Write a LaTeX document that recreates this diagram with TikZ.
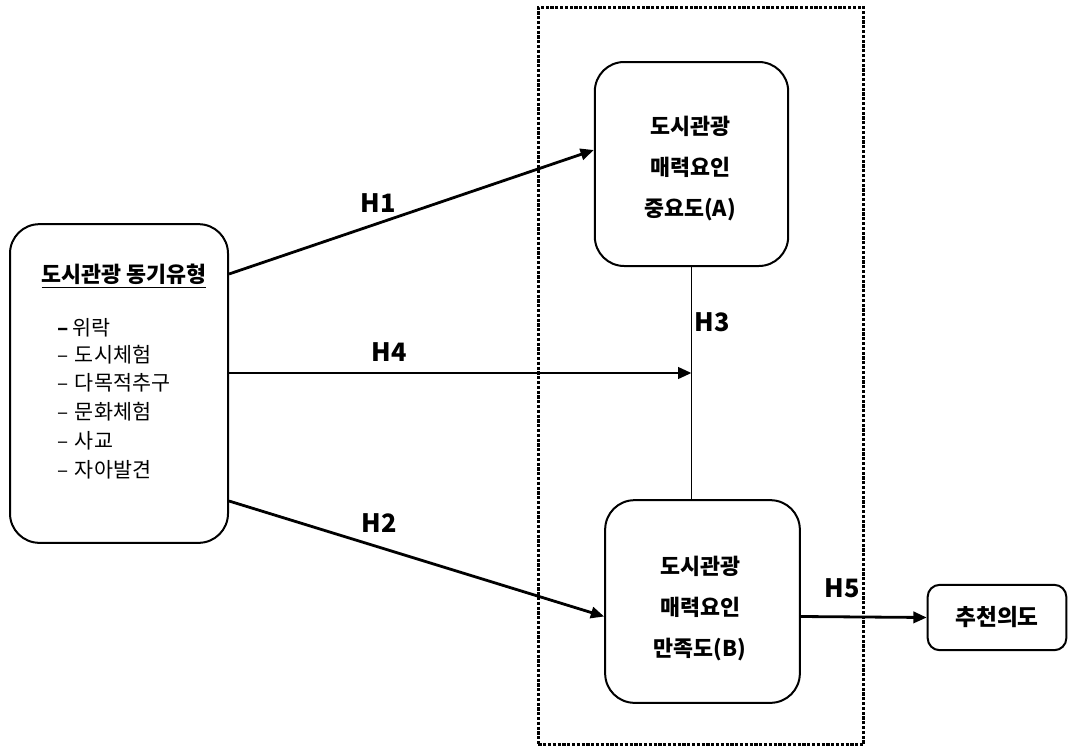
\documentclass[tikz,border=0pt]{standalone}
\usepackage{fontspec}
\setmainfont{Noto Sans CJK KR}
\usetikzlibrary{arrows.meta,calc}
\begin{document}
\begin{tikzpicture}[x=0.75pt,y=-0.75pt,
  box/.style={draw,line width=1.5pt,rounded corners=22pt,inner sep=0pt},
  arr/.style={line width=2.1pt,-{Triangle[length=10pt,width=8.5pt]}},
  hlabel/.style={font=\fontsize{19}{21}\selectfont\bfseries,inner sep=0pt},
  boxtext/.style={align=center,inner sep=0pt,font=\fontsize{16.3}{30.75}\selectfont\bfseries},
  item/.style={anchor=west,inner sep=0pt,font=\fontsize{15.5}{17}\selectfont}]
\useasboundingbox (0,0) rectangle (1068,747);

% dotted frame around the two attraction boxes
\node[draw,line width=2.4pt,dash pattern=on 2.4pt off 1.2pt,
      minimum width=244pt,minimum height=553pt,inner sep=0pt] (frame) at (701,376) {};

% motivation box
\node[box,minimum width=163.5pt,minimum height=239pt] (L) at (119,383.5) {};
\node[inner sep=0pt,font=\fontsize{16.3}{18}\selectfont\bfseries] (Ltitle) at (124,276)
  {\underline{도시관광 동기유형}};
\node[item] (i1) at (57,328) {\textbf{–}\hspace{3pt}위락};
\foreach \name/\txt/\yy in {i2/도시체험/355, i3/다목적추구/383,
                           i4/문화체험/412, i5/사교/441, i6/자아발견/470}
  \node[item] (\name) at (57,\yy) {–\hspace{5pt}\txt};

% attraction boxes
\node[box,minimum width=145pt,minimum height=153pt] (A) at (691.5,164) {};
\node[boxtext] (At) at (690,169) {도시관광\\매력요인\\중요도(A)};
\node[box,minimum width=146pt,minimum height=152pt] (B) at (702.5,601.5) {};
\node[boxtext] (Bt) at (700,609) {도시관광\\매력요인\\만족도(B)};

% recommendation intention
\node[draw,line width=1.5pt,rounded corners=9pt,minimum width=104pt,minimum height=49pt,
      font=\fontsize{17}{19}\selectfont\bfseries] (R) at (997,617.5) {추천의도};

% hypotheses paths
\draw[arr] ($(L.east)+(0,-109.5)$) -- ($(A.west)+(0,-14)$);
\draw[line width=0.9pt] (A.south) -- (A.south |- B.north);
\draw[arr] ($(L.east)+(0,-10.5)$) coordinate (h4s) -- (h4s -| A.south);
\draw[arr] ($(L.east)+(0,117.5)$) -- ($(B.west)+(0,15)$);
\draw[arr] ($(B.east)+(0,15)$) -- (R.west);

\node[hlabel] (H1) at (378,203) {H1};
\node[hlabel] (H4) at (389,352) {H4};
\node[hlabel] (H2) at (379,523) {H2};
\node[hlabel] (H3) at (712,322) {H3};
\node[hlabel] (H5) at (842,588) {H5};
\end{tikzpicture}
\end{document}
